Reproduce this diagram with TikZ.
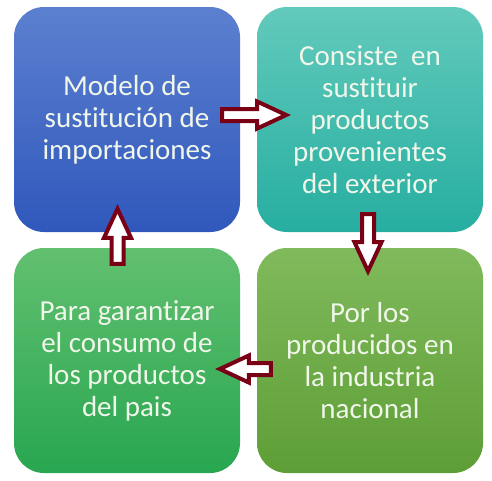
\documentclass[tikz,border=0pt]{standalone}
\usepackage{fontspec}
\setmainfont[Ligatures=CommonOff]{Carlito}
\usetikzlibrary{calc}
\definecolor{azulA}{RGB}{92,128,208}
\definecolor{azulB}{RGB}{48,88,188}
\definecolor{turqA}{RGB}{98,202,188}
\definecolor{turqB}{RGB}{38,174,160}
\definecolor{verdeA}{RGB}{98,192,112}
\definecolor{verdeB}{RGB}{40,166,80}
\definecolor{olivaA}{RGB}{128,186,92}
\definecolor{olivaB}{RGB}{94,158,54}
\definecolor{vino}{RGB}{122,0,22}
\definecolor{texto}{RGB}{240,246,234}
% flecha hueca: origen, giro, largo
\newcommand{\bloque}[3]{%
  \draw[flecha, shift={#1}, rotate=#2] (0,-6) -- ({#3-29},-6) -- ({#3-29},-13.5)
    -- (#3,0) -- ({#3-29},13.5) -- ({#3-29},6) -- (0,6) -- cycle;}

\begin{document}
\begin{tikzpicture}[x=1pt,y=-1pt,
    caja/.style={rounded corners=30pt, minimum width=226pt, minimum height=225pt,
        inner sep=0pt, align=center, text=texto,
        font=\fontsize{29}{32}\selectfont},
    flecha/.style={draw=vino, fill=white, line width=4pt, line join=miter}]
    \useasboundingbox (0,0) rectangle (492,480);
    \node[caja, top color=azulA, bottom color=azulB] (modelo) at (127,119.5)
        {Modelo de\\sustitución de\\importaciones};
    \node[caja, top color=turqA, bottom color=turqB] (consiste) at (370,119.5)
        {Consiste\ \ en\\sustituir\\productos\\provenientes\\del exterior};
    \node[caja, top color=olivaA, bottom color=olivaB] (nacional) at (370,360.5)
        {Por los\\producidos en\\la industria\\nacional};
    \node[caja, top color=verdeA, bottom color=verdeB] (garantizar) at (127,360.5)
        {Para garantizar\\el consumo de\\los productos\\del pais};
    \coordinate (t1) at ($(modelo.east)+(-18,-4.5)$);
    \coordinate (t2) at ($(consiste.south)+(-2,-18)$);
    \coordinate (t3) at ($(nacional.west)+(14,8.5)$);
    \coordinate (t4) at ($(garantizar.north)+(-9.5,16)$);
    \bloque{(t1)}{0}{64}
    \bloque{(t2)}{-90}{57}
    \bloque{(t3)}{180}{51}
    \bloque{(t4)}{90}{55}
\end{tikzpicture}
\end{document}
